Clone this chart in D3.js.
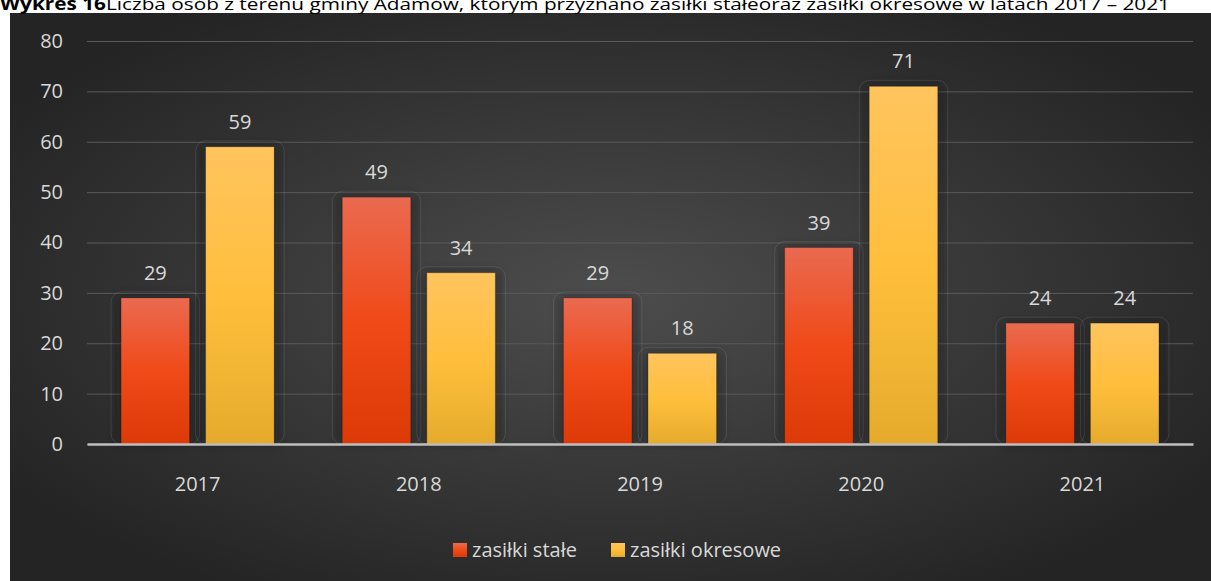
<!DOCTYPE html>
<html>
<head>
<meta charset="utf-8">
<script src="https://cdn.jsdelivr.net/npm/d3@7"></script>
<style>
  body { margin: 0; background: #fff; }
  svg { display: block; }
</style>
</head>
<body>
<div id="chart"></div>
<script>
// Wykres 16 - zasilki stale / okresowe 2017-2021
let years = ["2017", "2018", "2019", "2020", "2021"];
let seriesNames = ["zasiłki stałe", "zasiłki okresowe"];
let stale = [29, 49, 29, 39, 24];
let okresowe = [59, 34, 18, 71, 24];
let yTicks = [0, 10, 20, 30, 40, 50, 60, 70, 80];

let svgWidth = 1211;
let svgHeight = 581;

let margin = { top: 41, right: 18, bottom: 137, left: 87 };
let width = svgWidth - margin.left - margin.right;
let height = svgHeight - margin.top - margin.bottom;

let data = years.map((y, i) => ({ year: y, values: [stale[i], okresowe[i]] }));

let svg = d3.select("#chart")
  .append("svg")
  .attr("width", svgWidth)
  .attr("height", svgHeight);

let defs = svg.append("defs");

// background radial gradient
let bg = defs.append("radialGradient")
  .attr("id", "bgGrad")
  .attr("cx", "50%").attr("cy", "50%").attr("r", "60%");
bg.append("stop").attr("offset", "0%").attr("stop-color", "#4d4d4d");
bg.append("stop").attr("offset", "100%").attr("stop-color", "#242424");

let redGrad = defs.append("linearGradient")
  .attr("id", "redGrad").attr("x1", 0).attr("y1", 0).attr("x2", 0).attr("y2", 1);
redGrad.append("stop").attr("offset", "0%").attr("stop-color", "#ea6a50");
redGrad.append("stop").attr("offset", "50%").attr("stop-color", "#f04a18");
redGrad.append("stop").attr("offset", "100%").attr("stop-color", "#dc3a06");

let yelGrad = defs.append("linearGradient")
  .attr("id", "yelGrad").attr("x1", 0).attr("y1", 0).attr("x2", 0).attr("y2", 1);
yelGrad.append("stop").attr("offset", "0%").attr("stop-color", "#ffc45e");
yelGrad.append("stop").attr("offset", "50%").attr("stop-color", "#ffbf3c");
yelGrad.append("stop").attr("offset", "100%").attr("stop-color", "#e6ab2c");

let shadow = defs.append("filter").attr("id", "shadow")
  .attr("x", "-50%").attr("y", "-50%").attr("width", "200%").attr("height", "200%");
shadow.append("feGaussianBlur").attr("stdDeviation", 5);

let fills = ["url(#redGrad)", "url(#yelGrad)"];
let font = "Open Sans, sans-serif";

// chart area
svg.append("rect")
  .attr("x", 10).attr("y", 13)
  .attr("width", svgWidth - 10).attr("height", svgHeight - 13)
  .attr("fill", "url(#bgGrad)");

// title (cut at the top edge, as in the source page)
let title = svg.append("text")
  .attr("x", 0).attr("y", 9.5)
  .attr("font-family", font)
  .attr("font-size", "17px")
  .attr("fill", "#000")
  .attr("textLength", 1170)
  .attr("lengthAdjust", "spacingAndGlyphs");
title.append("tspan").attr("font-weight", "bold").text("Wykres 16");
title.append("tspan").text("Liczba osób z terenu gminy Adamów, którym przyznano zasiłki stałeoraz zasiłki okresowe w latach 2017 – 2021");

let chartGroup = svg.append("g")
  .attr("transform", `translate(${margin.left}, ${margin.top})`);

let xScale = d3.scaleBand().domain(years).range([0, width]).paddingInner(0.308).paddingOuter(0.154);
let xSub = d3.scaleBand().domain([0, 1]).range([0, xScale.bandwidth()]).paddingInner(0.19);
let xLabel = d3.scaleBand().domain(years).range([0, width]);
let yScale = d3.scaleLinear().domain([0, 80]).range([height, 0]);

// gridlines
chartGroup.append("g")
  .call(d3.axisLeft(yScale).tickValues(yTicks).tickSize(-width).tickFormat(""))
  .call(g => g.select(".domain").remove())
  .call(g => g.selectAll("line").attr("stroke", "#5a5a5a").attr("stroke-width", 1));

// y labels
chartGroup.append("g")
  .call(d3.axisLeft(yScale).tickValues(yTicks).tickSize(0).tickPadding(24))
  .call(g => g.select(".domain").remove())
  .call(g => g.selectAll("text")
    .attr("fill", "#d9d9d9")
    .attr("font-family", font)
    .attr("font-size", "20px"));

let groups = chartGroup.selectAll(".year")
  .data(data)
  .enter()
  .append("g")
  .attr("transform", d => `translate(${xScale(d.year)},0)`);

let cells = groups.selectAll("g.bar")
  .data(d => d.values.map((v, k) => ({ v: v, k: k })))
  .enter()
  .append("g");

// soft shadow + faint outline behind each bar
cells.append("rect")
  .attr("x", d => xSub(d.k) - 4)
  .attr("y", d => yScale(d.v) - 2)
  .attr("width", xSub.bandwidth() + 8)
  .attr("height", d => height - yScale(d.v) + 2)
  .attr("fill", "#111")
  .attr("opacity", 0.35)
  .attr("filter", "url(#shadow)");

cells.append("rect")
  .attr("x", d => xSub(d.k) - 10)
  .attr("y", d => yScale(d.v) - 6)
  .attr("width", xSub.bandwidth() + 20)
  .attr("height", d => height - yScale(d.v) + 6)
  .attr("rx", 10)
  .attr("fill", "none")
  .attr("stroke", "#ffffff")
  .attr("stroke-opacity", 0.1);

cells.append("rect")
  .attr("x", d => xSub(d.k))
  .attr("y", d => yScale(d.v))
  .attr("width", xSub.bandwidth())
  .attr("height", d => height - yScale(d.v))
  .attr("fill", d => fills[d.k])
  .attr("stroke", "#000")
  .attr("stroke-opacity", 0.2);

cells.append("text")
  .attr("x", d => xSub(d.k) + xSub.bandwidth() / 2)
  .attr("y", d => yScale(d.v) - 18)
  .attr("text-anchor", "middle")
  .attr("fill", "#d9d9d9")
  .attr("font-family", font)
  .attr("font-size", "20px")
  .text(d => d.v);

// x axis
chartGroup.append("g")
  .attr("transform", `translate(0, ${height})`)
  .call(d3.axisBottom(xLabel).tickSize(0).tickPadding(33))
  .call(g => g.select(".domain").attr("stroke", "#bfbfbf").attr("stroke-width", 2.5))
  .call(g => g.selectAll("text")
    .attr("fill", "#d9d9d9")
    .attr("font-family", font)
    .attr("font-size", "20px"));

// legend
let legendX = [453, 611];
let legend = svg.append("g");
seriesNames.forEach((name, i) => {
  legend.append("rect")
    .attr("x", legendX[i]).attr("y", 543)
    .attr("width", 14).attr("height", 14)
    .attr("fill", fills[i]);
  legend.append("text")
    .attr("x", legendX[i] + 19).attr("y", 557)
    .attr("fill", "#d9d9d9")
    .attr("font-family", font)
    .attr("font-size", "20px")
    .text(name);
});
</script>
</body>
</html>
